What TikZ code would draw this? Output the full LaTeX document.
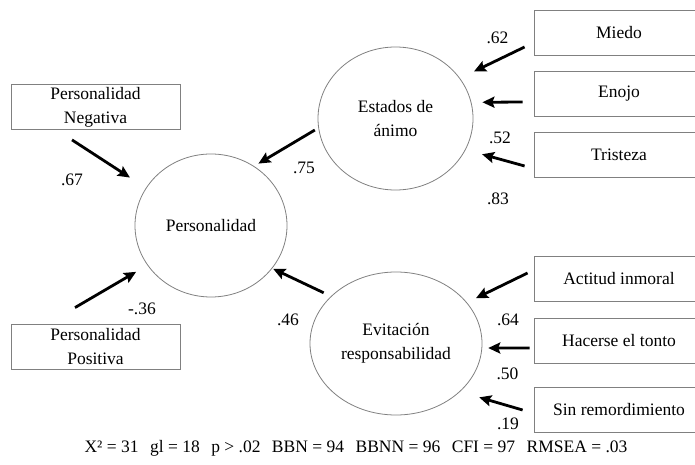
\documentclass[tikz,border=0pt]{standalone}
\usepackage{fontspec}
\setmainfont{Liberation Serif}
\usetikzlibrary{shapes.geometric, arrows.meta}

\newcommand{\hueco}{\hspace{11.5bp}}

\tikzset{
    indicador/.style = {draw = gray, line width = 0.8bp, minimum height = 45bp, inner sep = 0pt, align = center},
    factor/.style = {ellipse, draw = gray, line width = 0.8bp, inner sep = 0pt, align = center, minimum height = 143bp},
    flecha/.style = {line width = 2.8bp, -{Stealth[length = 12bp, width = 11bp, inset = 2bp]}},
    peso/.style = {inner sep = 0pt}
}

\begin{document}
\begin{tikzpicture}[x = 1bp, y = -1bp]
        \useasboundingbox (0,0) rectangle (695,465);
        \begin{scope}[every node/.append style = {font = \fontsize{17.5bp}{24bp}\selectfont}]
            \node[factor, minimum width = 152bp] (pers) at (211,225.5) {Personalidad};
            \node[factor, minimum width = 155bp] (estados) at (395.5,118.5) {Estados de\\ánimo};
            \node[factor, minimum width = 172bp] (evit) at (396,343.5) {Evitación\\responsabilidad};
            \node[indicador, minimum width = 169bp] (neg) at (95.5,107) {Personalidad\\Negativa};
            \node[indicador, minimum width = 169bp] (pos) at (95.5,346.5) {Personalidad\\Positiva};
            \foreach \nombre/\y/\texto in {miedo/32.5/Miedo, enojo/94/Enojo, tristeza/155/Tristeza, actitud/278.5/Actitud inmoral, hacerse/341/Hacerse el tonto, sin/409.5/Sin remordimiento}
                \node[indicador, minimum width = 170bp] (\nombre) at (619,\y) {\texto};
            \foreach \x/\y/\v [count = \i] in {72/180/.67, 304/168/.75, 497.5/37.5/.62, 500/138/.52, 498/198.5/.83, 142/309/-.36, 288/320/.46, 508/320/.64, 507.5/373.5/.50, 508/423.5/.19}
                \node[peso] (peso\i) at (\x,\y) {\v};
            \node (ajuste) at (356,448) {X² = 31\hueco gl = 18\hueco p > .02\hueco BBN = 94\hueco BBNN = 96\hueco CFI = 97\hueco RMSEA = .03};
        \end{scope}
        \draw[flecha, shorten >= 19bp] ([shift = {(-23.5,10)}]neg.south) -- (pers.150);
        \draw[flecha, shorten <= 4bp, shorten >= 5bp] (estados.187) -- (pers.54);
        \draw[flecha, shorten >= 13bp] ([shift = {(-20.5,-16)}]pos.north) -- (pers.212);
        \draw[flecha, shorten <= 8bp, shorten >= 1bp] (evit.144) -- (pers.325);
        \draw[flecha, shorten >= 15.5bp] ([shift = {(-9,14.5)}]miedo.west) -- (estados.32);
        \draw[flecha, shorten >= 11bp] ([shift = {(-11,8)}]enojo.west) -- (estados.12);
        \draw[flecha, shorten >= 17bp] ([shift = {(-9,11)}]tristeza.west) -- (estados.336);
        \draw[flecha, shorten >= 10bp] ([shift = {(-6,-5.5)}]actitud.west) -- (evit.30);
        \draw[flecha, shorten >= 6bp] ([shift = {(-4,7)}]hacerse.west) -- (evit.357);
        \draw[flecha, shorten >= 20bp] ([shift = {(-11,0.5)}]sin.west) -- (evit.323);
    \end{tikzpicture}
\end{document}
